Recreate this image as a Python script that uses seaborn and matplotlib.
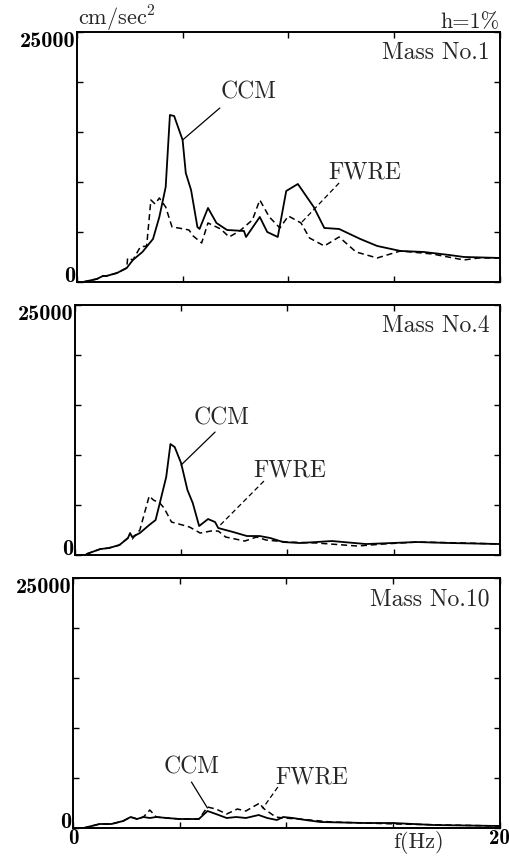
import matplotlib
matplotlib.use("Agg")
import matplotlib.pyplot as plt
import numpy as np
import seaborn as sns

# ---- data (frequency in Hz, response in cm/sec^2) ----
f1_ccm = [0.3, 0.95, 1.23, 1.4, 1.9, 2.36, 2.65, 3.1, 3.6, 3.9, 4.2, 4.4, 4.6, 5.0, 5.15, 5.4,
          5.7, 5.8, 6.2, 6.6, 7.1, 7.9, 8.0, 8.65, 9.0, 9.5, 9.9, 10.45, 11.2, 11.7, 12.4,
          13.4, 14.2, 15.3, 16.4, 17.6, 18.3, 20.0]
a1_ccm = [0, 300, 600, 600, 900, 1400, 2200, 3000, 4300, 6500, 9500, 16700, 16600, 14200, 10900, 9200,
          5500, 5300, 7400, 5900, 5200, 5100, 4500, 6500, 5000, 4500, 9100, 9800, 7500, 5400, 5300,
          4300, 3600, 3100, 3000, 2700, 2500, 2400]
f1_fwre = [0.3, 0.95, 1.23, 1.4, 1.9, 2.36, 2.4, 2.65, 3.0, 3.3, 3.5, 3.7, 3.9, 4.2, 4.5, 4.8, 5.3,
           5.5, 5.9, 6.2, 6.8, 7.2, 7.7, 8.3, 8.65, 9.1, 9.6, 10.0, 10.6, 11.0, 11.7, 12.4, 13.2,
           14.2, 15.3, 16.8, 18.3, 19.0, 20.0]
a1_fwre = [0, 300, 600, 600, 900, 1400, 2400, 2200, 3500, 3600, 8200, 7800, 8400, 7500, 5500, 5400, 5200,
           4600, 3900, 5900, 5300, 4500, 5100, 6200, 8200, 6500, 5400, 6600, 5900, 4400, 3600, 4500, 3000,
           2400, 3100, 2800, 2200, 2400, 2400]

f4_ccm = [0.55, 1.2, 1.6, 2.1, 2.5, 2.6, 2.7, 3.06, 3.5, 3.8, 4.0, 4.3, 4.5, 4.7, 5.0, 5.3, 5.55,
          5.85, 6.27, 6.6, 6.75, 7.45, 8.1, 8.7, 9.2, 9.8, 10.6, 12.1, 13.7, 16.1, 17.7, 20.0]
a4_ccm = [100, 600, 700, 1000, 1700, 2200, 1800, 2200, 3000, 3500, 5200, 7800, 11100, 10800, 9200, 6500, 5200,
          2900, 3600, 3300, 2700, 2300, 1900, 1900, 1700, 1300, 1200, 1400, 1100, 1300, 1200, 1100]
f4_fwre = [0.55, 1.2, 1.6, 2.1, 2.5, 2.7, 3.06, 3.5, 3.7, 4.0, 4.2, 4.55, 4.9, 5.4, 5.9, 6.4, 6.75,
           7.1, 8.0, 8.55, 9.0, 10.0, 11.4, 13.3, 14.5, 16.1, 18.4, 20.0]
a4_fwre = [100, 600, 700, 1000, 1700, 1600, 2500, 5900, 5500, 5200, 4700, 3300, 3100, 2800, 2200, 2400, 2400,
           1800, 1400, 1800, 1500, 1300, 1200, 900, 1100, 1300, 1200, 1100]

f10_ccm = [0.5, 1.25, 1.8, 2.35, 2.7, 3.0, 3.3, 3.6, 3.9, 4.4, 5.0, 5.9, 6.3, 6.7, 7.2, 7.65, 8.1,
           8.7, 9.1, 9.55, 9.85, 10.3, 10.9, 11.6, 13.7, 15.0, 16.9, 20.0]
a10_ccm = [0, 400, 400, 700, 1100, 900, 1100, 1000, 1100, 1000, 900, 900, 1700, 1400, 1000, 1100, 1000,
           1300, 1000, 800, 1100, 1000, 800, 600, 500, 500, 300, 200]
f10_fwre = [0.5, 1.25, 1.8, 2.35, 2.7, 3.0, 3.3, 3.6, 3.9, 4.4, 5.0, 5.9, 6.3, 6.7, 7.2, 7.7, 8.1,
            8.75, 8.9, 9.5, 9.85, 10.6, 12.1, 15.2, 20.0]
a10_fwre = [0, 400, 400, 700, 1100, 900, 1100, 1800, 1100, 1000, 900, 900, 2100, 1900, 1400, 1900, 1700,
            2500, 2000, 1100, 1000, 900, 600, 400, 200]

panels = [
    ("Mass No.1", f1_ccm, a1_ccm, f1_fwre, a1_fwre,
     (8.1, 19000), (6.76, 17400), (5.0, 14200), (13.6, 11000), (12.4, 9900), (10.6, 5900)),
    ("Mass No.4", f4_ccm, a4_ccm, f4_fwre, a4_fwre,
     (6.9, 13700), (6.6, 12300), (5.0, 9000), (10.1, 8500), (8.9, 7400), (6.75, 2800)),
    ("Mass No.10", f10_ccm, a10_ccm, f10_fwre, a10_fwre,
     (5.55, 6100), (5.55, 4600), (6.3, 2000), (11.2, 5100), (9.6, 4100), (8.9, 2000)),
]

sns.set_style("ticks")
plt.rcParams["font.family"] = ["cmr10", "DejaVu Serif"]
plt.rcParams["mathtext.fontset"] = "cm"
plt.rcParams["axes.formatter.use_mathtext"] = True

fig = plt.figure(figsize=(5.09, 8.56), dpi=100)
boxes = [(0.151, 0.6706, 0.831, 0.292),
         (0.147, 0.3516, 0.835, 0.292),
         (0.1434, 0.0327, 0.8386, 0.292)]

for i, (box, p) in enumerate(zip(boxes, panels)):
    name, fc, ac, fw, aw, ccm_t, ccm_a, ccm_b, fw_t, fw_a, fw_b = p
    ax = fig.add_axes(box)
    sns.lineplot(x=fc, y=ac, ax=ax, color="black", lw=1.3, estimator=None, sort=False)
    sns.lineplot(x=fw, y=aw, ax=ax, color="black", lw=1.1, estimator=None, sort=False,
                 linestyle=(0, (4, 2.5)))
    ax.set_xlim(0, 20)
    ax.set_ylim(0, 25000)
    ax.set_yticks(range(0, 25001, 5000))
    ylabs = ax.set_yticklabels(["0", "", "", "", "", "25000"], family="cmb10", fontsize=16)
    ylabs[0].set_va("baseline")
    ylabs[-1].set_va("top")
    ax.set_xticks([0, 5, 10, 15, 20])
    if i == 2:
        ax.set_xticklabels(["0", "", "", "", "20"], family="cmb10", fontsize=15)
        ax.text(16.2, -0.012, "f(Hz)", transform=ax.get_xaxis_transform(),
                ha="center", va="top", fontsize=16)
    else:
        ax.set_xticklabels([])
    ax.tick_params(direction="in", length=4, width=1.0, top=True, right=True, pad=1, colors="black")
    ax.tick_params(axis="x", pad=1)
    for s in ax.spines.values():
        s.set_linewidth(1.4)
        s.set_color("black")
    ax.set_xlabel("")
    ax.set_ylabel("")
    ax.text(0.975, 0.96, name, transform=ax.transAxes, ha="right", va="top", fontsize=17)
    ax.text(*ccm_t, "CCM", ha="center", va="center", fontsize=17)
    ax.plot([ccm_a[0], ccm_b[0]], [ccm_a[1], ccm_b[1]], color="black", lw=0.9)
    ax.text(*fw_t, "FWRE", ha="center", va="center", fontsize=17)
    ax.plot([fw_a[0], fw_b[0]], [fw_a[1], fw_b[1]], color="black", lw=0.9, linestyle=(0, (4, 2.5)))
    if i == 0:
        ax.text(0.003, 1.028, r"cm/sec$^{\mathbf{2}}$", transform=ax.transAxes,
                ha="left", va="baseline", fontsize=16)
        ax.text(1.0, 1.016, "h=1%", transform=ax.transAxes, ha="right", va="baseline", fontsize=16)

fig.savefig("out.png", dpi=100)
